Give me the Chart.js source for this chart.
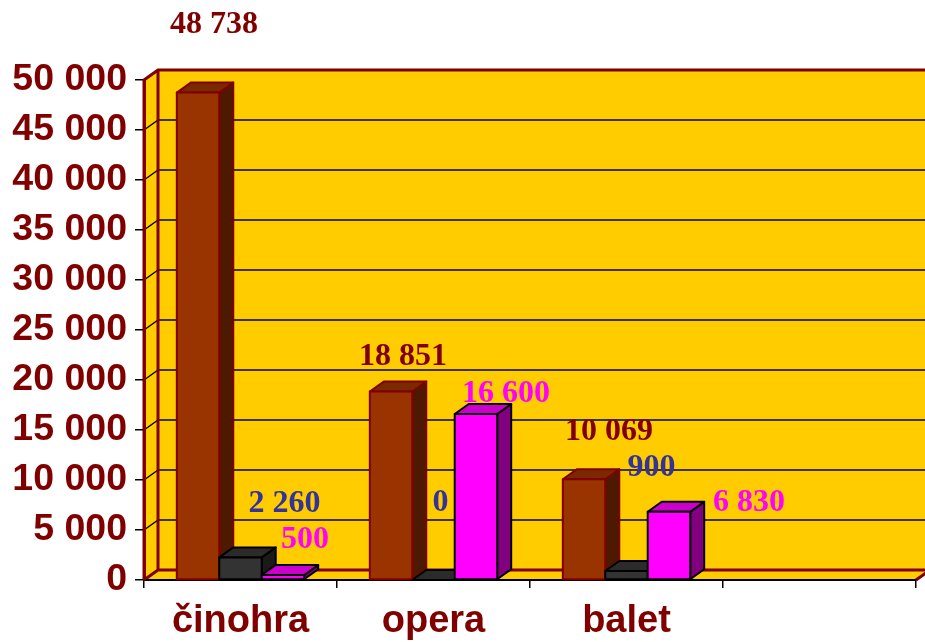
<!DOCTYPE html>
<html>
<head>
<meta charset="utf-8">
<script src="https://cdn.jsdelivr.net/npm/chart.js@4"></script>
<style>
  body { margin: 0; background: #fff; }
</style>
</head>
<body>
<canvas id="chart" width="925" height="642"></canvas>
<script>
// data
const categories = ["činohra", "opera", "balet", ""];
const brownValues = [48738, 18851, 10069, null];
const grayValues = [2260, 0, 900, null];
const pinkValues = [500, 16600, 6830, null];
const yMin = 0;
const yMax = 50000;
const yStep = 5000;

// nudges of the value labels (px, from the top centre of each bar)
const brownLabelShift = [[16, -68], [12, -35], [25, -48]];
const grayLabelShift = [[44, -54], [7, -77], [25, -103]];
const pinkLabelShift = [[22, -35], [30, -20], [80, -9]];

const DX = 14;
const DY = -10;
const wallRed = "#800000";
const wallYellow = "#FFCC00";

function fmt(v) {
  return String(v).replace(/\B(?=(\d{3})+(?!\d))/g, " ");
}

const seriesStyle = [
  { front: "#993300", top: "#7A2900", side: "#4D1A00", stroke: "#800000", text: "#800000", shift: brownLabelShift },
  { front: "#333333", top: "#2B2B2B", side: "#1A1A1A", stroke: "#000000", text: "#333399", shift: grayLabelShift },
  { front: "#FF00FF", top: "#CC00CC", side: "#800080", stroke: "#000000", text: "#FF00FF", shift: pinkLabelShift },
];

function poly(ctx, pts, fill, stroke, lw) {
  ctx.beginPath();
  ctx.moveTo(pts[0][0], pts[0][1]);
  for (let i = 1; i < pts.length; i++) ctx.lineTo(pts[i][0], pts[i][1]);
  ctx.closePath();
  if (fill) { ctx.fillStyle = fill; ctx.fill(); }
  if (stroke) { ctx.strokeStyle = stroke; ctx.lineWidth = lw; ctx.stroke(); }
}

// walls, floor and gridlines behind the bars
const walls = {
  id: "walls",
  beforeDraw(chart) {
    const { ctx, chartArea: a, scales: { y } } = chart;
    ctx.save();
    ctx.lineJoin = "round";
    // back wall
    poly(ctx, [[a.left + DX, a.top + DY], [a.right + DX, a.top + DY], [a.right + DX, a.bottom + DY], [a.left + DX, a.bottom + DY]], wallYellow);
    // side wall
    poly(ctx, [[a.left, a.bottom], [a.left, a.top], [a.left + DX, a.top + DY], [a.left + DX, a.bottom + DY]], wallYellow);
    // floor
    poly(ctx, [[a.left, a.bottom], [a.left + DX, a.bottom + DY], [a.right + DX, a.bottom + DY], [a.right, a.bottom]], wallYellow);

    // gridlines
    ctx.strokeStyle = "#000";
    ctx.lineWidth = 1.5;
    for (let v = yMin + yStep; v < yMax; v += yStep) {
      const py = y.getPixelForValue(v);
      ctx.beginPath();
      ctx.moveTo(a.left, py);
      ctx.lineTo(a.left + DX, py + DY);
      ctx.lineTo(a.right + DX, py + DY);
      ctx.stroke();
    }

    // dark red edges
    ctx.strokeStyle = wallRed;
    ctx.lineWidth = 3;
    ctx.beginPath();
    ctx.moveTo(a.left, a.bottom);
    ctx.lineTo(a.left, a.top);
    ctx.lineTo(a.left + DX, a.top + DY);
    ctx.lineTo(a.right + DX + 5, a.top + DY);
    ctx.moveTo(a.left + DX, a.top + DY);
    ctx.lineTo(a.left + DX, a.bottom + DY);
    ctx.lineTo(a.right + DX, a.bottom + DY);
    ctx.moveTo(a.left, a.bottom);
    ctx.lineTo(a.left + DX, a.bottom + DY);
    ctx.moveTo(a.right, a.bottom);
    ctx.lineTo(a.right + DX, a.bottom + DY);
    ctx.stroke();
    ctx.restore();
  },
};

// 3d boxes and value labels
const bars3d = {
  id: "bars3d",
  afterDatasetsDraw(chart) {
    const ctx = chart.ctx;
    ctx.save();
    ctx.lineJoin = "round";
    for (let i = 0; i < categories.length; i++) {
      chart.data.datasets.forEach((ds, d) => {
        const v = ds.data[i];
        if (v === null) return;
        const bar = chart.getDatasetMeta(d).data[i];
        const st = seriesStyle[d];
        const l = bar.x - bar.width / 2;
        const r = bar.x + bar.width / 2;
        const t = bar.y;
        const b = bar.base;
        poly(ctx, [[r, b], [r + DX, b + DY], [r + DX, t + DY], [r, t]], st.side, st.stroke, 2);
        poly(ctx, [[l, t], [l + DX, t + DY], [r + DX, t + DY], [r, t]], st.top, st.stroke, 2);
        if (b - t > 0.5) poly(ctx, [[l, t], [r, t], [r, b], [l, b]], st.front, st.stroke, 2);
      });
    }
    ctx.font = "bold 32px 'Liberation Serif', 'Times New Roman', serif";
    ctx.textAlign = "center";
    ctx.textBaseline = "middle";
    chart.data.datasets.forEach((ds, d) => {
      const st = seriesStyle[d];
      ds.data.forEach((v, i) => {
        if (v === null) return;
        const bar = chart.getDatasetMeta(d).data[i];
        const s = st.shift[i];
        ctx.fillStyle = st.text;
        ctx.fillText(fmt(v), bar.x + s[0], bar.y + s[1]);
      });
    });
    ctx.restore();
  },
};

new Chart(document.getElementById("chart"), {
  type: "bar",
  data: {
    labels: categories,
    datasets: [
      { data: brownValues, backgroundColor: "rgba(0,0,0,0)", borderWidth: 0 },
      { data: grayValues, backgroundColor: "rgba(0,0,0,0)", borderWidth: 0 },
      { data: pinkValues, backgroundColor: "rgba(0,0,0,0)", borderWidth: 0 },
    ],
  },
  options: {
    responsive: false,
    animation: false,
    layout: { padding: { top: 80, right: 9, left: 0, bottom: 0 } },
    datasets: { bar: { barPercentage: 1, categoryPercentage: 0.66 } },
    plugins: { legend: { display: false }, tooltip: { enabled: false } },
    scales: {
      x: {
        afterFit: (s) => { s.height = 62; },
        grid: { drawOnChartArea: false, color: "#000", lineWidth: 1.5, tickLength: 8, offset: true },
        border: { color: "#000", width: 2 },
        ticks: {
          color: wallRed,
          padding: 11,
          font: { family: "'Liberation Sans', Arial, sans-serif", size: 38, weight: "bold" },
        },
      },
      y: {
        min: yMin,
        max: yMax,
        afterFit: (s) => { s.width = 144; },
        grid: { drawOnChartArea: false, color: "#000", lineWidth: 1.5, tickLength: 9 },
        border: { color: wallRed, width: 3 },
        ticks: {
          stepSize: yStep,
          color: wallRed,
          padding: 8,
          font: { family: "'Liberation Sans', Arial, sans-serif", size: 37.5, weight: "bold" },
          callback: (v) => fmt(v),
        },
      },
    },
  },
  plugins: [walls, bars3d],
});
</script>
</body>
</html>
